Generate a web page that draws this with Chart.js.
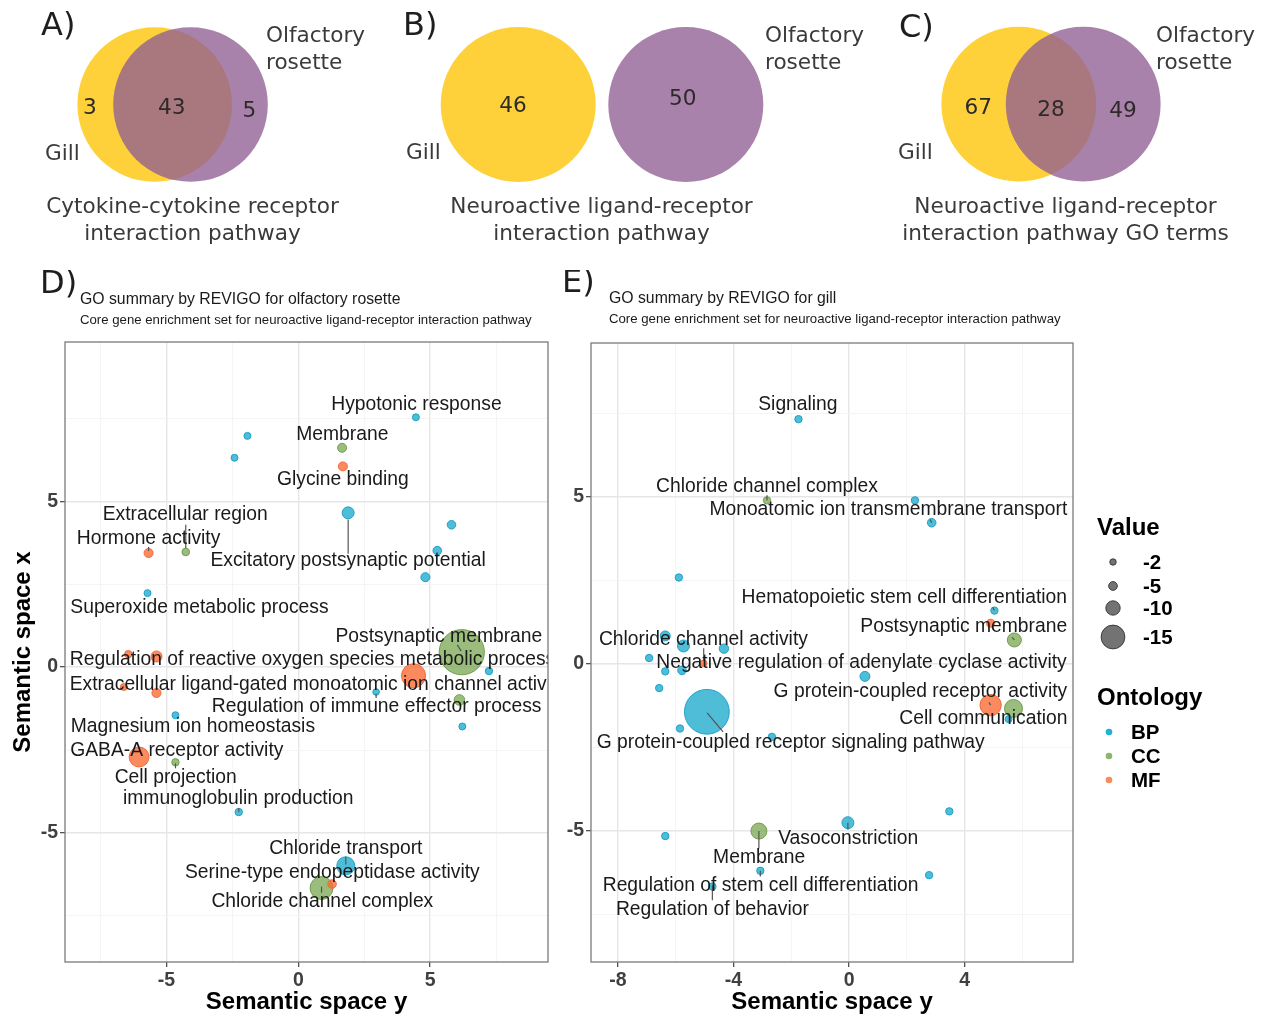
<!DOCTYPE html>
<html>
<head>
<meta charset="utf-8">
<title>Venn overlaps and REVIGO semantic space</title>
<script src="https://cdn.jsdelivr.net/npm/chart.js@4.4.1/dist/chart.umd.min.js"></script>
<style>
  html, body { margin: 0; padding: 0; background: #ffffff; }
  #figure { position: relative; width: 1262px; height: 1017px; overflow: hidden; background: #ffffff; }
  #figure canvas { position: absolute; }
</style>
</head>
<body>
<div id="figure">
  <canvas id="vennA" width="400" height="260" style="left:0px;top:0px"></canvas>
  <canvas id="vennB" width="470" height="260" style="left:400px;top:0px"></canvas>
  <canvas id="vennC" width="422" height="260" style="left:840px;top:0px"></canvas>
  <canvas id="revigoRosette" width="560" height="747" style="left:0px;top:270px"></canvas>
  <canvas id="revigoGill" width="712" height="747" style="left:550px;top:270px"></canvas>
</div>
<script>
// ---------------- data ----------------
// Venn counts: [gill only, shared, olfactory rosette only]
const vennA = [3, 43, 5];
const vennB = [46, null, 50];
const vennC = [67, 28, 49];
const captionA = ['Cytokine-cytokine receptor', 'interaction pathway'];
const captionB = ['Neuroactive ligand-receptor', 'interaction pathway'];
const captionC = ['Neuroactive ligand-receptor', 'interaction pathway GO terms'];

// REVIGO semantic space, olfactory rosette
const rosetteX = [6.20, 4.37, 0.88, -6.04, 1.80, 1.89, -5.38, 6.11, 4.46, -1.93, 1.66, -2.42, 1.69, 5.81, 5.27, -5.68, -4.27, 4.82, -5.72, -6.45, 7.23, -6.62, -5.38, 2.95, -4.66, 6.22, -4.66, -2.26, 1.28];
const rosetteY = [0.45, -0.26, -6.66, -2.71, -5.99, 4.65, 0.32, -0.99, 7.53, 6.97, 6.61, 6.31, 6.05, 4.29, 3.51, 3.44, 3.47, 2.71, 2.23, 0.39, -0.12, -0.60, -0.78, -0.75, -1.45, -1.79, -2.87, -4.37, -6.54];
const rosetteValue = [-21.4, -15.1, -14.6, -13.2, -12.2, -8.1, -7.3, -6.9, -2.7, -2.7, -5.3, -2.7, -5.3, -4.8, -4.8, -5.3, -3.6, -5.3, -2.7, -3.3, -3.3, -2.7, -5.3, -2.2, -2.7, -2.7, -3.3, -3.3, -4.8];
const rosetteOntology = ['CC','MF','CC','MF','BP','BP','MF','CC','BP','BP','CC','BP','MF','BP','BP','MF','CC','BP','BP','MF','BP','MF','MF','BP','BP','BP','CC','BP','MF'];

// REVIGO semantic space, gill
const gillX = [-4.92, 4.90, 5.69, -3.12, 5.72, -0.04, -5.73, -6.36, 0.55, -4.33, -1.75, -2.84, 2.28, 2.86, -5.89, 5.03, 4.90, -6.92, -5.03, -6.36, -5.78, -6.57, 5.52, -5.85, -2.67, 3.47, -6.36, -3.07, 2.77, -4.73];
const gillY = [-1.43, -1.23, -1.33, -5.00, 0.72, -4.75, 0.54, 0.84, -0.37, 0.46, 7.33, 4.90, 4.90, 4.23, 2.59, 1.60, 1.22, 0.18, 0.02, -0.22, -0.19, -0.72, -1.65, -1.93, -2.18, -4.41, -5.15, -6.19, -6.32, -6.66];
const gillValue = [-21.3, -13.9, -12.2, -11.0, -9.7, -8.1, -8.1, -6.3, -6.3, -5.7, -3.3, -3.3, -3.3, -4.8, -3.3, -3.3, -4.1, -3.3, -2.2, -3.3, -4.8, -3.3, -2.7, -3.3, -3.3, -3.3, -3.3, -3.3, -3.3, -3.3];
const gillOntology = ['BP','MF','CC','CC','CC','BP','BP','BP','BP','BP','BP','CC','BP','BP','BP','BP','MF','BP','MF','BP','BP','BP','BP','BP','BP','BP','BP','BP','BP','BP'];

const ontologies = ['BP', 'CC', 'MF'];
const sizeBreaks = [-2, -5, -10, -15];

// axis ticks: labelled (major) and unlabelled (minor grid)
const rosetteXTicks = [-5, 0, 5];
const rosetteXMinor = [-7.5, -2.5, 2.5, 7.5];
const rosetteYTicks = [-5, 0, 5];
const rosetteYMinor = [-7.5, -2.5, 2.5, 7.5];
const gillXTicks = [-8, -4, 0, 4];
const gillXMinor = [-6, -2, 2, 6];
const gillYTicks = [-5, 0, 5];
const gillYMinor = [-7.5, -2.5, 2.5, 7.5];

// term labels: [text, x, y, align]
const rosetteLabels = [
  ['Hypotonic response', 4.48, 7.90],
  ['Membrane', 1.67, 7.02],
  ['Glycine binding', 1.69, 5.64],
  ['Extracellular region', -4.29, 4.58],
  ['Hormone activity', -5.68, 3.88],
  ['Excitatory postsynaptic potential', 1.89, 3.20],
  ['Superoxide metabolic process', -3.75, 1.79],
  ['Postsynaptic membrane', 5.33, 0.91],
  ['Regulation of reactive oxygen species metabolic process', -8.67, 0.23, 'left'],
  ['Extracellular ligand-gated monoatomic ion channel activity', -8.67, -0.52, 'left'],
  ['Regulation of immune effector process', 2.97, -1.20],
  ['Magnesium ion homeostasis', -4.00, -1.80],
  ['GABA-A receptor activity', -4.61, -2.53],
  ['Cell projection', -4.65, -3.33],
  ['immunoglobulin production', -2.28, -3.98],
  ['Chloride transport', 1.80, -5.47],
  ['Serine-type endopeptidase activity', 1.29, -6.19],
  ['Chloride channel complex', 0.91, -7.07]
];
const rosetteLeaders = [
  [-4.27, 3.58, -4.27, 4.29], [1.89, 4.45, 1.89, 3.42], [6.03, 0.67, 6.18, 0.48],
  [1.80, -5.72, 1.80, -5.95], [-5.68, 3.62, -5.68, 3.50], [2.95, -0.80, 2.95, -0.93],
  [-2.26, -4.25, -2.26, -4.37], [-4.66, -2.90, -4.66, -3.05], [0.88, -6.62, 0.88, -6.80]
];
const gillLabels = [
  ['Signaling', -1.77, 7.75],
  ['Chloride channel complex', -2.84, 5.31],
  ['Monoatomic ion transmembrane transport', 1.36, 4.61],
  ['Hematopoietic stem cell differentiation', 1.91, 2.00],
  ['Postsynaptic membrane', 3.97, 1.12],
  ['Chloride channel activity', -5.04, 0.72],
  ['Negative regulation of adenylate cyclase activity', 0.43, 0.04],
  ['G protein-coupled receptor activity', 2.47, -0.83],
  ['Cell communication', 4.65, -1.63],
  ['G protein-coupled receptor signaling pathway', -2.02, -2.36],
  ['Vasoconstriction', -0.03, -5.22],
  ['Membrane', -3.11, -5.80],
  ['Regulation of stem cell differentiation', -3.06, -6.65],
  ['Regulation of behavior', -4.73, -7.34]
];
const gillLeaders = [
  [-4.91, -1.46, -4.36, -2.03], [-3.12, -5.00, -3.12, -5.52], [-5.03, 0.47, -5.03, 0.10],
  [-4.73, -6.62, -4.73, -7.07], [-0.04, -4.75, -0.04, -4.95], [5.64, 0.80, 5.72, 0.72],
  [4.84, -1.15, 4.90, -1.23], [2.80, 4.33, 2.86, 4.23], [4.97, 1.70, 5.03, 1.60],
  [-3.07, -6.19, -3.07, -6.36], [-2.84, 4.90, -2.84, 5.05]
];

// ---------------- styling ----------------
const SANS = '"Liberation Sans", Arial, Helvetica, sans-serif';
const VENN_FONT = '"DejaVu Sans", Verdana, sans-serif';
const GILL_COLOR = '#FED13A';
const ROSETTE_COLOR = 'rgba(144, 95, 146, 0.78)';
const ontFill = { BP: 'rgba(30, 170, 205, 0.78)', CC: 'rgba(120, 165, 80, 0.75)', MF: 'rgba(250, 110, 55, 0.8)' };
const ontEdge = { BP: 'rgba(22, 160, 198, 0.95)', CC: 'rgba(108, 152, 72, 0.9)', MF: 'rgba(240, 100, 50, 0.9)' };
const ontKey = { BP: '#22B0D6', CC: '#8DB66C', MF: '#F98A5A' };
const bubbleRadius = v => 2.66 * Math.exp(0.1 * Math.abs(v));

// ---------------- Venn panels ----------------
// one unit on both hidden axes equals one circle radius
function vennPanel(id, counts, caption, L) {
  const xMin = -L.mid / L.R, xMax = (L.w - L.mid) / L.R;
  const yMax = L.cy / L.R, yMin = -(L.h - L.cy) / L.R;
  new Chart(document.getElementById(id), {
    type: 'bubble',
    data: {
      datasets: [{
        data: [{ x: -L.half, y: 0 }, { x: L.half, y: 0 }],
        backgroundColor: [GILL_COLOR, ROSETTE_COLOR],
        borderColor: 'rgba(0,0,0,0)',
        borderWidth: 0,
        radius: L.R,
        clip: false
      }]
    },
    options: {
      responsive: false, animation: false, events: [],
      layout: { padding: 0, autoPadding: false },
      plugins: { legend: { display: false }, tooltip: { enabled: false } },
      scales: {
        x: { type: 'linear', display: false, min: xMin, max: xMax },
        y: { type: 'linear', display: false, min: yMin, max: yMax }
      }
    },
    plugins: [{
      id: 'vennText',
      afterDraw(chart) {
        const { ctx, scales: { x, y } } = chart;
        ctx.save();
        ctx.textBaseline = 'middle';
        ctx.textAlign = 'left';
        ctx.fillStyle = '#1e1e1e';
        ctx.font = `32px ${VENN_FONT}`;
        ctx.fillText(L.letter, L.letterAt[0], L.letterAt[1]);
        ctx.fillStyle = '#3a3a3a';
        ctx.font = `21.6px ${VENN_FONT}`;
        ctx.fillText('Gill', L.gillAt[0], L.gillAt[1]);
        ctx.fillText('Olfactory', L.roseAt[0], L.roseAt[1]);
        ctx.fillText('rosette', L.roseAt[0], L.roseAt[2]);
        ctx.textAlign = 'center';
        caption.forEach((t, i) => ctx.fillText(t, L.capX, L.capY[i]));
        ctx.fillStyle = '#2e2a2a';
        counts.forEach((n, i) => {
          if (n == null) return;
          const p = L.countAt[i];
          ctx.fillText(String(n), x.getPixelForValue(p[0]), y.getPixelForValue(p[1]));
        });
        ctx.restore();
      }
    }]
  });
}

vennPanel('vennA', vennA, captionA, {
  w: 400, h: 260, mid: 172.6, cy: 104.5, R: 77.3, half: 0.2316,
  letter: 'A)', letterAt: [41, 27], gillAt: [45, 154], roseAt: [266, 36, 63],
  capX: 192.5, capY: [207, 234],
  countAt: [[-1.069, -0.05], [-0.012, -0.05], [0.992, -0.085]]
});
vennPanel('vennB', vennB, captionB, {
  w: 470, h: 260, mid: 202, cy: 104.5, R: 77.5, half: 1.0813,
  letter: 'B)', letterAt: [3, 27], gillAt: [6, 153], roseAt: [365, 36, 63],
  capX: 201.5, capY: [207, 234],
  countAt: [[-1.148, -0.02], null, [1.041, 0.067]]
});
vennPanel('vennC', vennC, captionC, {
  w: 422, h: 260, mid: 211, cy: 104.2, R: 77.4, half: 0.416,
  letter: 'C)', letterAt: [59, 29], gillAt: [58, 153], roseAt: [316, 36, 63],
  capX: 225.5, capY: [207, 234],
  countAt: [[-0.939, -0.053], [0, -0.075], [0.93, -0.097]]
});

// ---------------- semantic space panels ----------------
function axisOptions(range, majors, minors, extra) {
  const all = majors.concat(minors).sort((a, b) => a - b);
  const isMajor = c => c.tick && majors.includes(c.tick.value);
  return Object.assign({
    type: 'linear', min: range[0], max: range[1],
    afterBuildTicks: s => { s.ticks = all.map(v => ({ value: v })); },
    ticks: {
      autoSkip: false, maxRotation: 0, padding: 2,
      color: '#404040',
      font: { family: SANS, size: 19.5, weight: 'bold' },
      callback: v => (majors.includes(v) ? String(v) : '')
    },
    grid: {
      color: c => (isMajor(c) ? '#E6E6E6' : '#F2F2F2'),
      lineWidth: c => (isMajor(c) ? 1.4 : 0.8),
      tickColor: c => (isMajor(c) ? '#333333' : 'rgba(0,0,0,0)'),
      tickLength: 5, tickWidth: 1.1
    },
    border: { display: false }
  }, extra);
}

function semanticPanel(id, pts, L) {
  return new Chart(document.getElementById(id), {
    type: 'bubble',
    data: {
      datasets: [{
        data: pts.x.map((x, i) => ({ x: x, y: pts.y[i] })),
        backgroundColor: c => ontFill[pts.ont[c.dataIndex]],
        borderColor: c => ontEdge[pts.ont[c.dataIndex]],
        borderWidth: 1,
        radius: c => bubbleRadius(pts.val[c.dataIndex]),
        clip: 0
      }]
    },
    options: {
      responsive: false, animation: false, events: [],
      layout: { padding: { left: 0, top: L.top, right: L.right, bottom: 0 }, autoPadding: false },
      plugins: { legend: { display: false }, tooltip: { enabled: false } },
      scales: {
        x: axisOptions(L.xRange, L.xMajor, L.xMinor, {
          afterFit: s => { s.height = 55; },
          title: {
            display: true, text: 'Semantic space y', color: '#000',
            font: { family: SANS, size: 24, weight: 'bold', lineHeight: 1.2 },
            padding: { top: 0, bottom: 0 }
          }
        }),
        y: axisOptions(L.yRange, L.yMajor, L.yMinor, {
          afterFit: s => { s.width = L.yWidth; },
          title: {
            display: !!L.yTitle, text: L.yTitle || '', color: '#000',
            font: { family: SANS, size: 24, weight: 'bold', lineHeight: 1.2 },
            padding: { top: 8.6, bottom: 0 }
          }
        })
      }
    },
    plugins: [{
      id: 'termLabels',
      afterDatasetsDraw(chart) {
        const { ctx, chartArea: a, scales: { x, y } } = chart;
        ctx.save();
        ctx.beginPath();
        ctx.rect(a.left, a.top, a.right - a.left, a.bottom - a.top);
        ctx.clip();
        ctx.strokeStyle = '#555555';
        ctx.lineWidth = 1.2;
        L.leaders.forEach(([x1, y1, x2, y2]) => {
          ctx.beginPath();
          ctx.moveTo(x.getPixelForValue(x1), y.getPixelForValue(y1));
          ctx.lineTo(x.getPixelForValue(x2), y.getPixelForValue(y2));
          ctx.stroke();
        });
        ctx.fillStyle = '#1a1a1a';
        ctx.font = `19.3px ${SANS}`;
        ctx.textBaseline = 'middle';
        L.labels.forEach(([t, lx, ly, al]) => {
          ctx.textAlign = al || 'center';
          ctx.fillText(t, x.getPixelForValue(lx), y.getPixelForValue(ly));
        });
        ctx.restore();
        ctx.save();
        ctx.strokeStyle = '#7a7a7a';
        ctx.lineWidth = 1.3;
        ctx.strokeRect(a.left, a.top, a.right - a.left, a.bottom - a.top);
        ctx.restore();
      },
      afterDraw(chart) {
        const ctx = chart.ctx;
        ctx.save();
        ctx.textBaseline = 'middle';
        ctx.textAlign = 'left';
        ctx.fillStyle = '#1e1e1e';
        ctx.font = `32px ${VENN_FONT}`;
        ctx.fillText(L.letter, L.letterAt[0], L.letterAt[1]);
        ctx.fillStyle = '#1a1a1a';
        ctx.font = `15.8px ${SANS}`;
        ctx.fillText(L.title, L.titleAt[0], L.titleAt[1]);
        ctx.font = `13.2px ${SANS}`;
        ctx.fillText(L.subtitle, L.titleAt[0], L.titleAt[2]);
        ctx.restore();
        if (L.legend) L.legend(chart);
      }
    }]
  });
}

function drawKeys(chart) {
  const ctx = chart.ctx;
  const sizeKeyY = [292, 316, 338, 367];
  const ontKeyY = [462, 486, 510];
  ctx.save();
  ctx.textBaseline = 'middle';
  ctx.textAlign = 'left';
  ctx.fillStyle = '#000';
  ctx.font = `bold 24px ${SANS}`;
  ctx.fillText('Value', 547, 258);
  ctx.fillText('Ontology', 547, 428);
  ctx.font = `bold 20.5px ${SANS}`;
  sizeBreaks.forEach((v, i) => {
    ctx.beginPath();
    ctx.arc(563, sizeKeyY[i], bubbleRadius(v), 0, Math.PI * 2);
    ctx.fillStyle = 'rgba(0,0,0,0.55)';
    ctx.fill();
    ctx.strokeStyle = 'rgba(40,40,40,0.8)';
    ctx.lineWidth = 1;
    ctx.stroke();
    ctx.fillStyle = '#000';
    ctx.fillText(String(v), 593, sizeKeyY[i] + 1);
  });
  ontologies.forEach((o, i) => {
    ctx.beginPath();
    ctx.arc(559, ontKeyY[i], 3.3, 0, Math.PI * 2);
    ctx.fillStyle = ontKey[o];
    ctx.fill();
    ctx.fillStyle = '#000';
    ctx.fillText(o, 581, ontKeyY[i] + 1);
  });
  ctx.restore();
}

semanticPanel('revigoRosette',
  { x: rosetteX, y: rosetteY, val: rosetteValue, ont: rosetteOntology },
  {
    top: 72, right: 12, yWidth: 65, yTitle: 'Semantic space x',
    xRange: [-8.85, 9.47], yRange: [-8.89, 9.80],
    xMajor: rosetteXTicks, xMinor: rosetteXMinor, yMajor: rosetteYTicks, yMinor: rosetteYMinor,
    labels: rosetteLabels, leaders: rosetteLeaders,
    letter: 'D)', letterAt: [40, 15],
    title: 'GO summary by REVIGO for olfactory rosette',
    subtitle: 'Core gene enrichment set for neuroactive ligand-receptor interaction pathway',
    titleAt: [80, 30, 50.5]
  });

semanticPanel('revigoGill',
  { x: gillX, y: gillY, val: gillValue, ont: gillOntology },
  {
    top: 73, right: 189, yWidth: 41, yTitle: '',
    xRange: [-8.93, 7.75], yRange: [-8.92, 9.61],
    xMajor: gillXTicks, xMinor: gillXMinor, yMajor: gillYTicks, yMinor: gillYMinor,
    labels: gillLabels, leaders: gillLeaders,
    letter: 'E)', letterAt: [12, 14],
    title: 'GO summary by REVIGO for gill',
    subtitle: 'Core gene enrichment set for neuroactive ligand-receptor interaction pathway',
    titleAt: [59, 28.5, 49.5],
    legend: drawKeys
  });
</script>
</body>
</html>
